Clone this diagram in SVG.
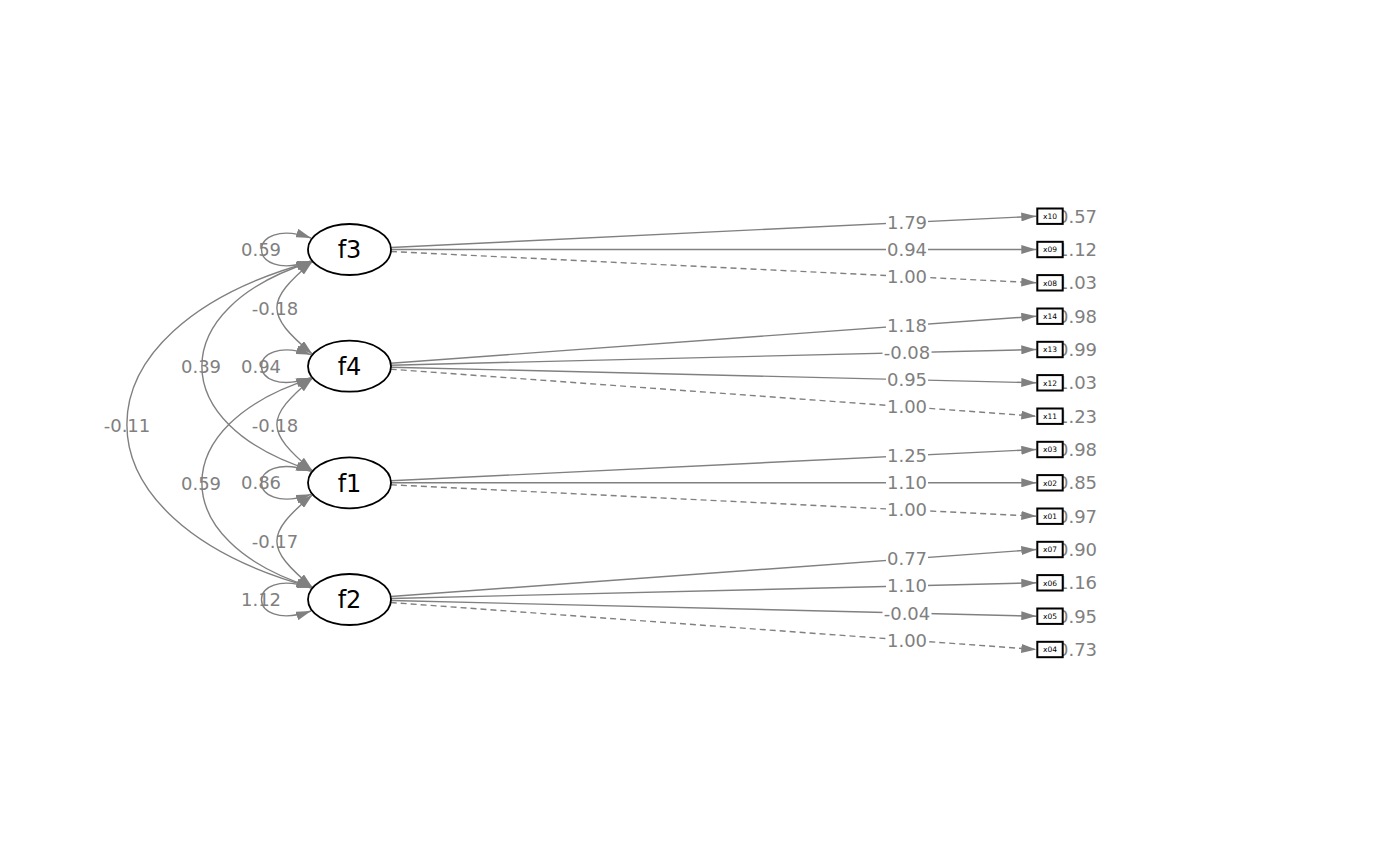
<svg xmlns="http://www.w3.org/2000/svg" width="1400" height="866" viewBox="0 0 1400 866">
<style>
.e{fill:none;stroke:#808080;stroke-width:1.4}
.d{stroke-dasharray:6 4}
.a{marker-end:url(#ah)}
.b{marker-start:url(#ah);marker-end:url(#ah)}
.l{font-family:"DejaVu Sans",sans-serif;font-size:18px;fill:#808080;text-anchor:middle}
.bg{fill:#ffffff}
.lat{fill:#ffffff;stroke:#000000;stroke-width:1.8}
.lt{font-family:"DejaVu Sans",sans-serif;font-size:24px;fill:#000000;text-anchor:middle}
.man{fill:#ffffff;stroke:#000000;stroke-width:2}
.mt{font-family:"DejaVu Sans",sans-serif;font-size:7.5px;fill:#000000;text-anchor:middle}
</style>
<defs>
<marker id="ah" viewBox="0 0 15 9" refX="15" refY="4.5" markerWidth="15" markerHeight="9" markerUnits="userSpaceOnUse" orient="auto-start-reverse"><path d="M0,0 L15,4.5 L0,9 z" fill="#808080"/></marker>
</defs>
<rect width="1400" height="866" fill="#ffffff"/>
<g id="connectors">
<!-- loadings -->
<path class="e a" d="M390.9,247.5 L1036.3,216.2"/>
<path class="e a" d="M391,249.5 L1036.3,249.5"/>
<path class="e a d" d="M390.9,251.5 L1036.3,282.8"/>
<path class="e a" d="M390.7,363.2 L1036.3,316.2"/>
<path class="e a" d="M391,365.2 L1036.3,349.5"/>
<path class="e a" d="M391,367.2 L1036.3,382.8"/>
<path class="e a d" d="M390.7,369.2 L1036.3,416.2"/>
<path class="e a" d="M390.9,480.8 L1036.3,449.5"/>
<path class="e a" d="M391,482.8 L1036.3,482.8"/>
<path class="e a d" d="M390.9,484.8 L1036.3,516.2"/>
<path class="e a" d="M390.7,596.5 L1036.3,549.5"/>
<path class="e a" d="M391,598.5 L1036.3,582.8"/>
<path class="e a" d="M391,600.5 L1036.3,616.2"/>
<path class="e a d" d="M390.7,602.5 L1036.3,649.5"/>
<!-- loading labels -->
<rect class="bg" x="886" y="214.5" width="42" height="16"/><text class="l" x="907" y="229">1.79</text>
<rect class="bg" x="886" y="241.5" width="42" height="16"/><text class="l" x="907" y="256">0.94</text>
<rect class="bg" x="886" y="268.5" width="42" height="16"/><text class="l" x="907" y="283">1.00</text>
<rect class="bg" x="886" y="317.6" width="42" height="16"/><text class="l" x="907" y="332.1">1.18</text>
<rect class="bg" x="882.5" y="344.6" width="49" height="16"/><text class="l" x="907" y="359.1">-0.08</text>
<rect class="bg" x="886" y="371.7" width="42" height="16"/><text class="l" x="907" y="386.2">0.95</text>
<rect class="bg" x="886" y="398.8" width="42" height="16"/><text class="l" x="907" y="413.3">1.00</text>
<rect class="bg" x="886" y="447.8" width="42" height="16"/><text class="l" x="907" y="462.3">1.25</text>
<rect class="bg" x="886" y="474.8" width="42" height="16"/><text class="l" x="907" y="489.3">1.10</text>
<rect class="bg" x="886" y="501.9" width="42" height="16"/><text class="l" x="907" y="516.4">1.00</text>
<rect class="bg" x="886" y="550.9" width="42" height="16"/><text class="l" x="907" y="565.4">0.77</text>
<rect class="bg" x="886" y="577.9" width="42" height="16"/><text class="l" x="907" y="592.4">1.10</text>
<rect class="bg" x="882.5" y="605.1" width="49" height="16"/><text class="l" x="907" y="619.6">-0.04</text>
<rect class="bg" x="886" y="632.1" width="42" height="16"/><text class="l" x="907" y="646.6">1.00</text>
<!-- variances -->
<path class="e b" d="M311,238 C245,215 245,284 311,261"/>
<path class="e b" d="M311,354.7 C245,331.7 245,400.7 311,377.7"/>
<path class="e b" d="M311,471.3 C245,448.3 245,517.3 311,494.3"/>
<path class="e b" d="M311,588 C245,565 245,634 311,611"/>
<!-- covariances -->
<path class="e b" d="M312.5,261.5 C265,301.5 265,314.2 312.5,354.2"/>
<path class="e b" d="M312.5,378.2 C265,418.2 265,430.8 312.5,470.8"/>
<path class="e b" d="M312.5,494.8 C265,534.8 265,547.5 312.5,587.5"/>
<path class="e b" d="M312.5,261.5 C165,307.5 165,424.8 312.5,470.8"/>
<path class="e b" d="M312.5,378.2 C165,424.2 165,541.5 312.5,587.5"/>
<path class="e b" d="M312.5,261.5 C65,328.5 65,520.5 312.5,587.5"/>
<text class="l" x="261" y="256">0.59</text>
<text class="l" x="261" y="372.7">0.94</text>
<text class="l" x="261" y="489.3">0.86</text>
<text class="l" x="261" y="606">1.12</text>
<text class="l" x="275" y="314.5">-0.18</text>
<text class="l" x="201" y="373">0.39</text>
<text class="l" x="127" y="431.5">-0.11</text>
<text class="l" x="275" y="431.5">-0.18</text>
<text class="l" x="201" y="489.5">0.59</text>
<text class="l" x="275" y="547.5">-0.17</text>
</g>
<g id="f3"><ellipse class="lat" cx="349.5" cy="249.5" rx="41.5" ry="25.5"/><text class="lt" x="349.5" y="258.2">f3</text></g>
<g id="f4"><ellipse class="lat" cx="349.5" cy="366.2" rx="41.5" ry="25.5"/><text class="lt" x="349.5" y="374.9">f4</text></g>
<g id="f1"><ellipse class="lat" cx="349.5" cy="482.8" rx="41.5" ry="25.5"/><text class="lt" x="349.5" y="491.5">f1</text></g>
<g id="f2"><ellipse class="lat" cx="349.5" cy="599.5" rx="41.5" ry="25.5"/><text class="lt" x="349.5" y="608.2">f2</text></g>
<g id="x10"><text class="l" x="1077" y="222.7">0.57</text><rect class="man" x="1037.3" y="208.5" width="25.4" height="15.4"/><text class="mt" x="1050" y="218.9">x10</text></g>
<g id="x09"><text class="l" x="1077" y="256">1.12</text><rect class="man" x="1037.3" y="241.8" width="25.4" height="15.4"/><text class="mt" x="1050" y="252.2">x09</text></g>
<g id="x08"><text class="l" x="1077" y="289.3">1.03</text><rect class="man" x="1037.3" y="275.1" width="25.4" height="15.4"/><text class="mt" x="1050" y="285.5">x08</text></g>
<g id="x14"><text class="l" x="1077" y="322.7">0.98</text><rect class="man" x="1037.3" y="308.5" width="25.4" height="15.4"/><text class="mt" x="1050" y="318.9">x14</text></g>
<g id="x13"><text class="l" x="1077" y="356">0.99</text><rect class="man" x="1037.3" y="341.8" width="25.4" height="15.4"/><text class="mt" x="1050" y="352.2">x13</text></g>
<g id="x12"><text class="l" x="1077" y="389.3">1.03</text><rect class="man" x="1037.3" y="375.1" width="25.4" height="15.4"/><text class="mt" x="1050" y="385.5">x12</text></g>
<g id="x11"><text class="l" x="1077" y="422.7">1.23</text><rect class="man" x="1037.3" y="408.5" width="25.4" height="15.4"/><text class="mt" x="1050" y="418.9">x11</text></g>
<g id="x03"><text class="l" x="1077" y="456">0.98</text><rect class="man" x="1037.3" y="441.8" width="25.4" height="15.4"/><text class="mt" x="1050" y="452.2">x03</text></g>
<g id="x02"><text class="l" x="1077" y="489.3">0.85</text><rect class="man" x="1037.3" y="475.1" width="25.4" height="15.4"/><text class="mt" x="1050" y="485.5">x02</text></g>
<g id="x01"><text class="l" x="1077" y="522.7">0.97</text><rect class="man" x="1037.3" y="508.5" width="25.4" height="15.4"/><text class="mt" x="1050" y="518.9">x01</text></g>
<g id="x07"><text class="l" x="1077" y="556">0.90</text><rect class="man" x="1037.3" y="541.8" width="25.4" height="15.4"/><text class="mt" x="1050" y="552.2">x07</text></g>
<g id="x06"><text class="l" x="1077" y="589.3">1.16</text><rect class="man" x="1037.3" y="575.1" width="25.4" height="15.4"/><text class="mt" x="1050" y="585.5">x06</text></g>
<g id="x05"><text class="l" x="1077" y="622.7">0.95</text><rect class="man" x="1037.3" y="608.5" width="25.4" height="15.4"/><text class="mt" x="1050" y="618.9">x05</text></g>
<g id="x04"><text class="l" x="1077" y="656">0.73</text><rect class="man" x="1037.3" y="641.8" width="25.4" height="15.4"/><text class="mt" x="1050" y="652.2">x04</text></g>
</svg>
